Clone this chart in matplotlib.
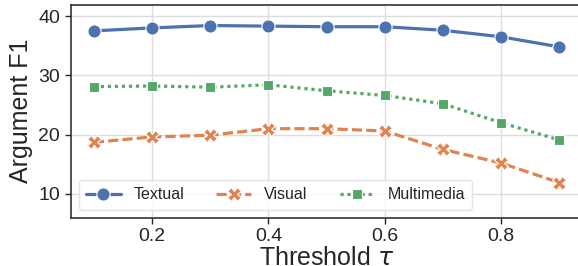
import matplotlib
matplotlib.use("Agg")
import matplotlib.pyplot as plt
import seaborn as sns

thresholds = [0.1, 0.2, 0.3, 0.4, 0.5, 0.6, 0.7, 0.8, 0.9]
textual = [37.5, 38.0, 38.4, 38.3, 38.2, 38.2, 37.6, 36.5, 34.8]
visual = [18.7, 19.6, 19.9, 21.0, 21.0, 20.6, 17.5, 15.2, 11.9]
multimedia = [28.1, 28.2, 28.0, 28.4, 27.4, 26.6, 25.2, 22.0, 19.1]
series_names = ["Textual", "Visual", "Multimedia"]
yticks = [10, 20, 30, 40]
xticks = [0.2, 0.4, 0.6, 0.8]

sns.set_theme(style="ticks")
plt.rcParams['font.family'] = ['Liberation Sans', 'DejaVu Sans']
plt.rcParams['mathtext.fontset'] = 'dejavusans'

pal = sns.color_palette("deep")
fig = plt.figure(figsize=(5.78, 2.66), dpi=100)
ax = fig.add_axes([0.122, 0.182, 0.886, 0.800])

ax.plot(thresholds, textual, color=pal[0], ls='-', lw=2.3, marker='o', ms=9.5,
        mec='white', mew=0.8, label=series_names[0])
ax.plot(thresholds, visual, color=pal[1], ls=(0, (3.2, 1.3)), lw=2.3, marker='X', ms=9.5,
        mec='white', mew=0.8, label=series_names[1])
ax.plot(thresholds, multimedia, color=pal[2], ls=(0, (1, 1.2)), lw=2.3, marker='s', ms=6.5,
        mec='white', mew=0.8, label=series_names[2])

ax.set_xlim(0.06, 0.94)
ax.set_ylim(6, 41.9)
ax.set_xticks(xticks)
ax.set_yticks(yticks)
ax.grid(True, color='#dddddd', lw=1)
ax.set_axisbelow(True)
for s in ax.spines.values():
    s.set_color('#333333')
    s.set_linewidth(1.2)
ax.tick_params(labelsize=14, colors='#262626', length=4, width=1)
ax.set_xlabel(r"Threshold $\tau$", fontsize=18, labelpad=1, color='#262626')
ax.set_ylabel("Argument F1", fontsize=18, labelpad=4, color='#262626')

leg = ax.legend(ncol=3, loc='lower left', bbox_to_anchor=(0.0, 0.0), fontsize=11.5,
                frameon=True, handlelength=2.2, columnspacing=2.0, borderpad=0.45)
leg.get_frame().set_edgecolor('#dddddd')

fig.savefig("out.png", dpi=100)
